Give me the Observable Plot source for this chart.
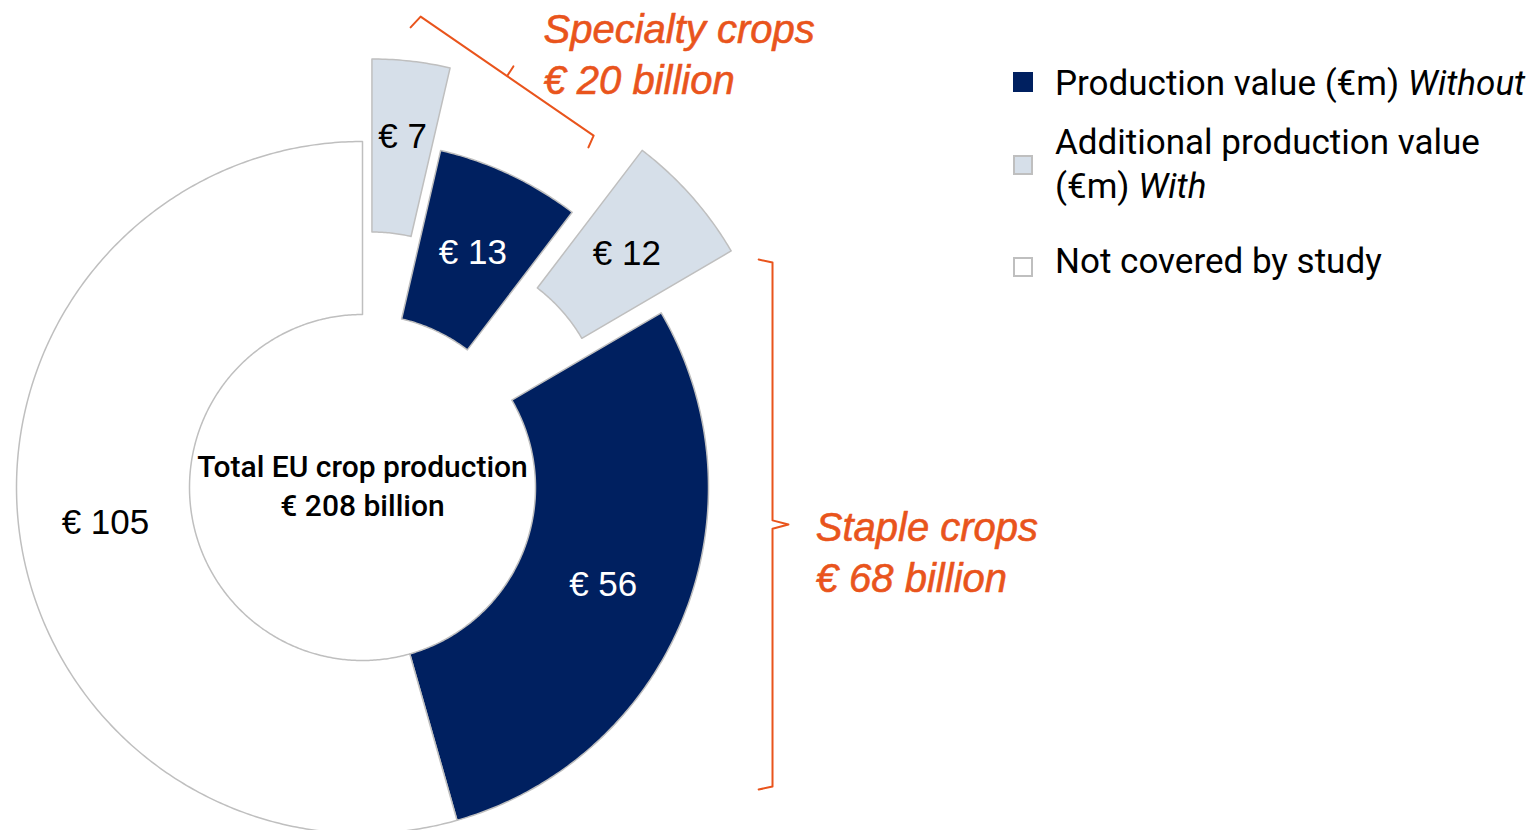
<!DOCTYPE html>
<html>
<head>
<meta charset="utf-8">
<script src="https://cdn.jsdelivr.net/npm/d3@7"></script>
<script src="https://cdn.jsdelivr.net/npm/@observablehq/plot@0.6"></script>
<style>
  html, body { margin: 0; padding: 0; background: #ffffff; }
  #wrap { position: relative; width: 1540px; height: 830px; overflow: hidden; background: #fff; }
  #chart { position: absolute; left: 0; top: 0; }
  .legend { position: absolute; left: 0; top: 0; width: 1540px; height: 300px; font-family: Roboto, "Liberation Sans", sans-serif; font-size: 35px; color: #000; }
  .sw { position: absolute; left: 1013px; width: 16px; height: 16px; border: 2px solid #BFBFBF; }
  .txt { position: absolute; left: 1055px; line-height: 44px; white-space: nowrap; }
  .txt i { font-style: italic; }
</style>
</head>
<body>
<div id="wrap">
  <div id="chart"></div>
  <div class="legend" id="legend"></div>
</div>
<script>
// ---- Data ----
const sliceLabels = ["€ 7", "€ 13", "€ 12", "€ 56", "€ 105"];
const sliceValues = [7, 13, 12, 56, 105];
const sliceTypes  = ["With", "Without", "With", "Without", "Not covered"];

const typeKeys    = ["Without", "With", "Not covered"];
const legendMain  = ["Production value (€m) ", "Additional production value<br>(€m) ", "Not covered by study"];
const legendItal  = ["Without", "With", ""];

const centerTitle = "Total EU crop production";
const centerTotal = "€ 208 billion";

const groupNames  = ["Specialty crops", "Staple crops"];
const groupTotals = ["€ 20 billion", "€ 68 billion"];

// ---- Styling / layout config ----
const typeColors  = ["#002060", "#D6DFE9", "#FFFFFF"];
const explode     = [0.24, 0, 0.27, 0, 0];   // slice explosion, in radius units
const labelExtra  = [0.03, 0, 0, 0, 0];      // extra outward shift of a slice label
const innerR = 0.5, outerR = 1, labelR = 0.75;
const orange = "#E9541C";

// bracket shapes (annotation geometry, in radius units around the donut centre)
const bracketSpecialty = [[0.139,1.330],[0.168,1.361],[0.418,1.189],[0.436,1.217],[0.418,1.189],[0.668,1.017],[0.653,0.983]];
const bracketStaple    = [[1.145,0.659],[1.185,0.650],[1.185,-0.095],[1.231,-0.107],[1.185,-0.119],[1.185,-0.864],[1.145,-0.873]];

// ---- Build geometry ----
const arcs = d3.pie().sort(null).value(d => d)(sliceValues);
const pts = [];
const labels = [];
arcs.forEach((a, i) => {
  const mid = (a.startAngle + a.endAngle) / 2;
  const ox = explode[i] * Math.sin(mid), oy = explode[i] * Math.cos(mid);
  const n = Math.max(6, Math.ceil((a.endAngle - a.startAngle) / 0.01));
  for (let k = 0; k <= n; k++) {
    const t = a.startAngle + (a.endAngle - a.startAngle) * k / n;
    pts.push({id: i, type: sliceTypes[i], x: ox + outerR * Math.sin(t), y: oy + outerR * Math.cos(t)});
  }
  for (let k = n; k >= 0; k--) {
    const t = a.startAngle + (a.endAngle - a.startAngle) * k / n;
    pts.push({id: i, type: sliceTypes[i], x: ox + innerR * Math.sin(t), y: oy + innerR * Math.cos(t)});
  }
  const lr = labelR + labelExtra[i];
  labels.push({text: sliceLabels[i], type: sliceTypes[i],
    x: ox + lr * Math.sin(mid), y: oy + lr * Math.cos(mid)});
});

const brackets = [];
[bracketSpecialty, bracketStaple].forEach((b, g) => b.forEach(([x, y]) => brackets.push({g, x, y})));

const groupText = [
  {x: 0.523, y: 1.257, text: groupNames[0] + "\n" + groupTotals[0]},
  {x: 1.310, y: -0.181, text: groupNames[1] + "\n" + groupTotals[1]}
];

const chart = Plot.plot({
  width: 1540,
  height: 830,
  margin: 0,
  x: {domain: [-1, 1], range: [16, 708], axis: null},
  y: {domain: [-1, 1], range: [833, 141], axis: null},
  color: {domain: typeKeys, range: typeColors},
  style: {background: "transparent", overflow: "visible"},
  marks: [
    Plot.line(pts, {x: "x", y: "y", z: "id", fill: "type", stroke: "#BFBFBF", strokeWidth: 1.5, curve: "linear-closed"}),
    Plot.text(labels.filter(d => d.type === "Without"), {x: "x", y: "y", text: "text", fill: "#ffffff",
      fontSize: 35, fontFamily: "'Liberation Sans', Arial, sans-serif"}),
    Plot.text(labels.filter(d => d.type !== "Without"), {x: "x", y: "y", text: "text", fill: "#000000",
      fontSize: 35, fontFamily: "'Liberation Sans', Arial, sans-serif"}),
    Plot.text([centerTitle + "\n" + centerTotal], {x: () => 0, y: () => 0.011, text: d => d, fill: "#000",
      fontSize: 30, fontWeight: 500, lineHeight: 1.3, fontFamily: "Roboto, sans-serif"}),
    Plot.line(brackets, {x: "x", y: "y", z: "g", stroke: orange, strokeWidth: 2}),
    Plot.text(groupText, {x: "x", y: "y", text: "text", fill: orange, textAnchor: "start",
      fontSize: 40, fontStyle: "italic", lineHeight: 1.275, fontFamily: "'Liberation Sans', Arial, sans-serif",
      stroke: orange, strokeWidth: 0.6})
  ]
});
document.getElementById("chart").appendChild(chart);

// ---- Legend ----
const legendLayout = [{sw: 72, txt: 62}, {sw: 155, txt: 121}, {sw: 257, txt: 240}];
const legend = document.getElementById("legend");
typeKeys.forEach((k, i) => {
  const sw = document.createElement("div");
  sw.className = "sw";
  sw.style.top = legendLayout[i].sw + "px";
  sw.style.background = typeColors[i];
  if (i === 0) sw.style.borderColor = typeColors[0];
  legend.appendChild(sw);
  const t = document.createElement("div");
  t.className = "txt";
  t.style.top = legendLayout[i].txt + "px";
  t.innerHTML = legendMain[i] + (legendItal[i] ? "<i>" + legendItal[i] + "</i>" : "");
  legend.appendChild(t);
});
</script>
</body>
</html>
